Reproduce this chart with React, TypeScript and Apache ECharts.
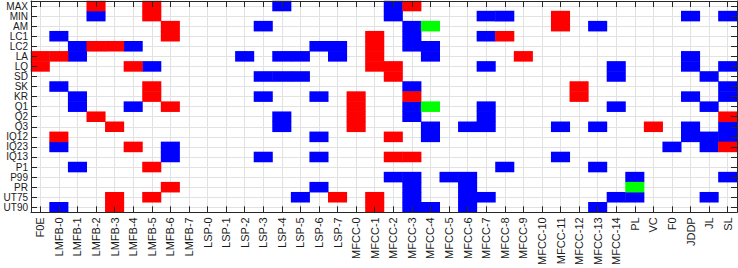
import React, { useEffect, useRef } from "react";
import * as echarts from "echarts";

const xCategories = [
  "F0E", "LMFB-0", "LMFB-1", "LMFB-2", "LMFB-3", "LMFB-4", "LMFB-5", "LMFB-6", "LMFB-7",
  "LSP-0", "LSP-1", "LSP-2", "LSP-3", "LSP-4", "LSP-5", "LSP-6", "LSP-7",
  "MFCC-0", "MFCC-1", "MFCC-2", "MFCC-3", "MFCC-4", "MFCC-5", "MFCC-6", "MFCC-7",
  "MFCC-8", "MFCC-9", "MFCC-10", "MFCC-11", "MFCC-12", "MFCC-13", "MFCC-14",
  "PL", "VC", "F0", "JDDP", "JL", "SL",
];

const yCategories = [
  "MAX", "MIN", "AM", "LC1", "LC2", "LA", "LQ", "SD", "SK", "KR", "Q1", "Q2", "Q3",
  "IQ12", "IQ23", "IQ13", "P1", "P99", "PR", "UT75", "UT90",
];

// row -> columns, per colour
const redCells: [string, string[]][] = [
  ["MAX", ["LMFB-2", "LMFB-5", "MFCC-3"]],
  ["MIN", ["LMFB-5", "MFCC-11"]],
  ["AM", ["LMFB-6", "MFCC-11"]],
  ["LC1", ["LMFB-6", "MFCC-1", "MFCC-8"]],
  ["LC2", ["LMFB-2", "LMFB-3", "MFCC-1"]],
  ["LA", ["F0E", "LMFB-0", "MFCC-1", "MFCC-9"]],
  ["LQ", ["F0E", "LMFB-4", "MFCC-1", "MFCC-2"]],
  ["SD", ["MFCC-2"]],
  ["SK", ["LMFB-5", "MFCC-12"]],
  ["KR", ["LMFB-5", "MFCC-0", "MFCC-3", "MFCC-12"]],
  ["Q1", ["LMFB-6", "MFCC-0"]],
  ["Q2", ["LMFB-2", "MFCC-0", "SL"]],
  ["Q3", ["LMFB-3", "MFCC-0", "VC"]],
  ["IQ12", ["LMFB-0", "MFCC-2"]],
  ["IQ23", ["LMFB-4", "SL"]],
  ["IQ13", ["MFCC-2", "MFCC-3"]],
  ["P1", ["LMFB-5"]],
  ["PR", ["LMFB-6"]],
  ["UT75", ["LMFB-3", "LMFB-5", "LSP-7", "MFCC-1"]],
  ["UT90", ["LMFB-3", "MFCC-1"]],
];

const blueCells: [string, string[]][] = [
  ["MAX", ["LSP-4", "MFCC-2"]],
  ["MIN", ["LMFB-2", "MFCC-2", "MFCC-7", "MFCC-8", "JDDP", "SL"]],
  ["AM", ["LSP-3", "MFCC-3", "MFCC-13"]],
  ["LC1", ["LMFB-0", "MFCC-3", "MFCC-7"]],
  ["LC2", ["LMFB-1", "LMFB-4", "LSP-6", "LSP-7", "MFCC-3", "MFCC-4"]],
  ["LA", ["LMFB-1", "LSP-2", "LSP-4", "LSP-5", "LSP-7", "MFCC-4", "JDDP"]],
  ["LQ", ["LMFB-5", "MFCC-7", "MFCC-14", "JDDP", "SL"]],
  ["SD", ["LSP-3", "LSP-4", "LSP-5", "MFCC-14", "JL"]],
  ["SK", ["LMFB-0", "MFCC-3", "SL"]],
  ["KR", ["LMFB-1", "LSP-3", "LSP-6", "JDDP", "SL"]],
  ["Q1", ["LMFB-1", "LMFB-4", "MFCC-3", "MFCC-7", "MFCC-14", "JL"]],
  ["Q2", ["LSP-4", "MFCC-3", "MFCC-7"]],
  ["Q3", ["LSP-4", "MFCC-4", "MFCC-6", "MFCC-7", "MFCC-11", "MFCC-13", "JDDP", "SL"]],
  ["IQ12", ["LSP-6", "MFCC-4", "JDDP", "JL", "SL"]],
  ["IQ23", ["LMFB-0", "LMFB-6", "F0", "JL"]],
  ["IQ13", ["LMFB-6", "LSP-3", "LSP-6", "MFCC-11"]],
  ["P1", ["LMFB-1", "MFCC-8", "MFCC-13"]],
  ["P99", ["MFCC-2", "MFCC-3", "MFCC-5", "MFCC-6", "PL", "SL"]],
  ["PR", ["LSP-6", "MFCC-3", "MFCC-6"]],
  ["UT75", ["LSP-5", "MFCC-3", "MFCC-6", "MFCC-7", "MFCC-14", "PL", "JL"]],
  ["UT90", ["LMFB-0", "MFCC-3", "MFCC-4", "MFCC-6", "MFCC-13"]],
];

const greenCells: [string, string[]][] = [
  ["AM", ["MFCC-4"]],
  ["Q1", ["MFCC-4"]],
  ["PR", ["PL"]],
];

const AXIS_COLOR = "#262626";
const GRID_COLOR = "#e2e2e2";
const FONT = "'Liberation Sans', Arial, sans-serif";

function toData(cells: [string, string[]][], code: number) {
  const out: number[][] = [];
  cells.forEach(([row, cols]) => {
    cols.forEach((c) => {
      out.push([xCategories.indexOf(c), yCategories.indexOf(row), code]);
    });
  });
  return out;
}

export default function App() {
  const ref = useRef<HTMLDivElement>(null);
  useEffect(() => {
    document.body.style.margin = "0";
    if (!ref.current) return;
    const chart = echarts.init(ref.current, undefined, { renderer: "svg" });
    const data = [
      ...toData(blueCells, 1),
      ...toData(redCells, 2),
      ...toData(greenCells, 3),
    ];
    const lineAxisCommon = {
      axisLine: { show: true, lineStyle: { color: AXIS_COLOR, width: 1 } },
      axisTick: {
        show: true,
        inside: true,
        alignWithLabel: true,
        interval: 0,
        length: 6,
        lineStyle: { color: AXIS_COLOR, width: 1 },
      },
      splitLine: { show: false },
      z: 5,
    };
    const gridAxisCommon = {
      axisLine: { show: false },
      axisTick: { show: false },
      axisLabel: { show: false },
      splitLine: {
        show: true,
        alignWithLabel: true,
        interval: 0,
        lineStyle: { color: GRID_COLOR, width: 1 },
      },
      z: 0,
    };
    chart.setOption({
      animation: false,
      grid: { left: 31, top: 1, width: 706, height: 216, containLabel: false },
      visualMap: {
        type: "piecewise",
        show: false,
        dimension: 2,
        pieces: [
          { value: 1, color: "#0000ff" },
          { value: 2, color: "#ff0000" },
          { value: 3, color: "#00ff00" },
        ],
      },
      xAxis: [
        { type: "category", data: xCategories, position: "bottom", ...gridAxisCommon },
        {
          type: "category",
          data: xCategories,
          position: "bottom",
          ...lineAxisCommon,
          axisLabel: {
            show: true,
            interval: 0,
            rotate: 90,
            margin: 5,
            fontSize: 11,
            lineHeight: 12,
            fontFamily: FONT,
            color: "#1a1a1a",
          },
        },
        {
          type: "category",
          data: xCategories,
          position: "top",
          ...lineAxisCommon,
          axisLabel: { show: false },
        },
      ],
      yAxis: [
        { type: "category", data: yCategories, inverse: true, position: "left", ...gridAxisCommon },
        {
          type: "category",
          data: yCategories,
          inverse: true,
          position: "left",
          ...lineAxisCommon,
          axisLabel: {
            show: true,
            interval: 0,
            margin: 3,
            fontSize: 10,
            lineHeight: 9,
            fontFamily: FONT,
            color: "#1a1a1a",
          },
        },
        {
          type: "category",
          data: yCategories,
          inverse: true,
          position: "right",
          ...lineAxisCommon,
          axisLabel: { show: false },
        },
      ],
      series: [
        {
          type: "heatmap",
          xAxisIndex: 1,
          yAxisIndex: 1,
          data,
          z: 2,
          itemStyle: { borderWidth: 0 },
          emphasis: { disabled: true },
        },
      ],
    });
    return () => chart.dispose();
  }, []);
  return <div ref={ref} style={{ width: 738, height: 268 }} />;
}
